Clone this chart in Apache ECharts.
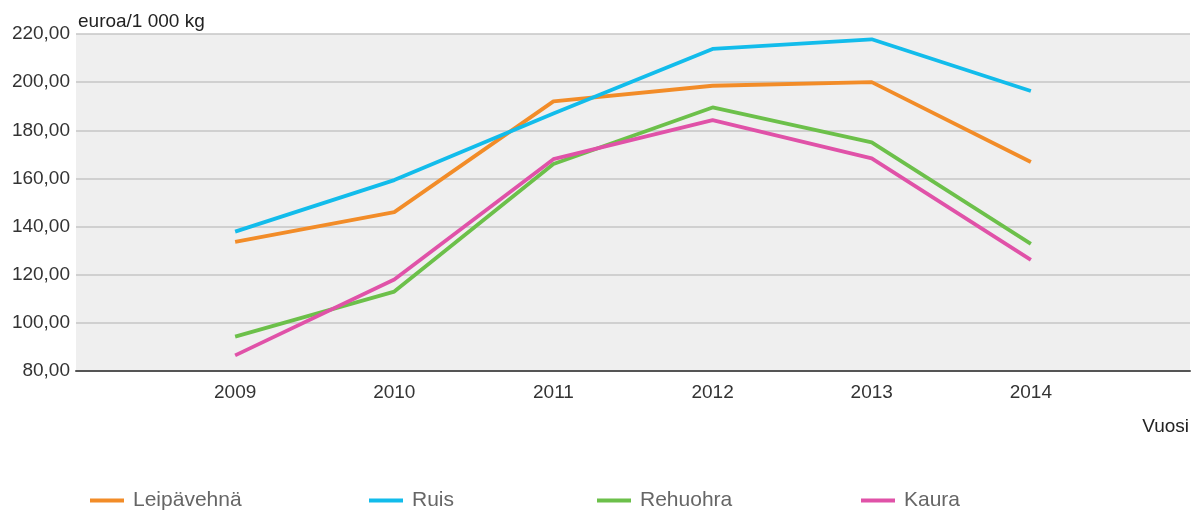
<!DOCTYPE html>
<html>
<head>
<meta charset="utf-8">
<script src="https://cdn.jsdelivr.net/npm/echarts@6/dist/echarts.min.js"></script>
<style>
html,body{margin:0;padding:0;background:#fff;overflow:hidden;}
#c{width:1193px;height:510px;}
</style>
</head>
<body>
<div id="c"></div>
<script>
const years = [2009, 2010, 2011, 2012, 2013, 2014];
const seriesNames = ['Leipävehnä', 'Ruis', 'Rehuohra', 'Kaura'];
const leipavehna = [133.6, 146.0, 192.0, 198.5, 200.0, 166.8];
const ruis = [137.9, 159.3, 187.0, 213.8, 217.8, 196.3];
const rehuohra = [94.3, 113.0, 166.0, 189.5, 175.0, 132.8];
const kaura = [86.5, 118.0, 168.0, 184.2, 168.3, 126.2];
const yTicks = [80, 100, 120, 140, 160, 180, 200, 220];
const unitLabel = 'euroa/1 000 kg';
const xAxisLabel = 'Vuosi';

const colors = ['#F28C28', '#12BCEB', '#6CC04A', '#E052A8'];
const values = [leipavehna, ruis, rehuohra, kaura];
const legendLefts = [90, 369, 597, 861];

const chart = echarts.init(document.getElementById('c'), null, {renderer: 'canvas'});
const font = '"Liberation Sans", Arial, sans-serif';

chart.setOption({
  animation: false,
  textStyle: {fontFamily: font},
  grid: {left: 76, right: -3, top: 34, bottom: 139, show: true, backgroundColor: '#efefef', borderWidth: 0},
  xAxis: {
    type: 'value', min: years[0] - 1, max: years[years.length - 1] + 1, interval: 1,
    axisLine: {show: true, lineStyle: {color: '#555', width: 2}},
    axisTick: {show: false},
    splitLine: {show: false},
    axisLabel: {
      color: '#333', fontSize: 19, fontFamily: font, margin: 12,
      formatter: v => years.indexOf(v) >= 0 ? String(v) : ''
    }
  },
  yAxis: {
    type: 'value', min: yTicks[0], max: yTicks[yTicks.length - 1], interval: 20,
    axisLine: {show: false}, axisTick: {show: false},
    splitLine: {lineStyle: {color: '#c6c6c6', width: 1.5}},
    axisLabel: {color: '#333', fontSize: 19, fontFamily: font, margin: 6,
      formatter: v => v.toFixed(2).replace('.', ',')}
  },
  legend: seriesNames.map((n, i) => ({
    data: [n], left: legendLefts[i], top: 490, padding: 0,
    icon: 'rect', itemWidth: 34, itemHeight: 4, itemGap: 9,
    textStyle: {color: '#666', fontSize: 21, fontFamily: font, padding: [6, 0, 2, 4]}
  })),
  graphic: [
    {type: 'text', left: 78, top: 12, style: {text: unitLabel, fill: '#222', font: '19px ' + font}},
    {type: 'text', right: 4, top: 417, style: {text: xAxisLabel, fill: '#222', font: '19px ' + font}}
  ],
  series: seriesNames.map((n, i) => ({
    name: n, type: 'line', symbol: 'none',
    data: years.map((y, j) => [y, values[i][j]]),
    lineStyle: {color: colors[i], width: 3.8},
    itemStyle: {color: colors[i]}
  }))
});
</script>
</body>
</html>
